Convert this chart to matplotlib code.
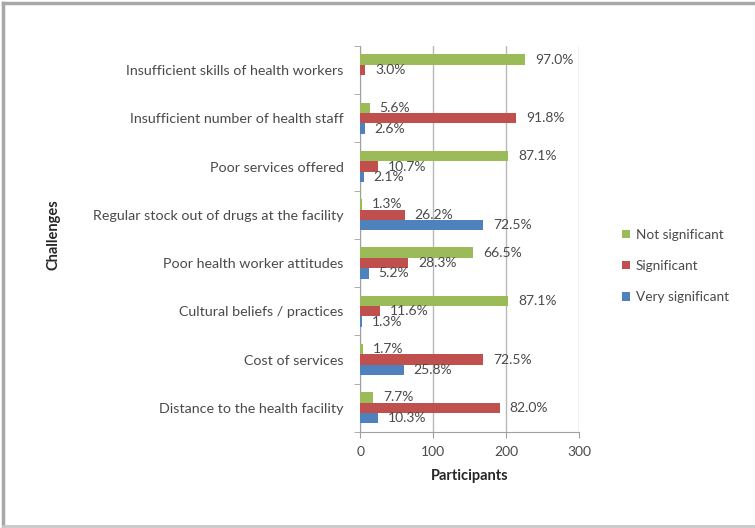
import matplotlib
matplotlib.use('Agg')
import matplotlib.pyplot as plt
import numpy as np
from matplotlib.lines import Line2D

# categories bottom -> top
challenges = ['Distance to the health facility', 'Cost of services',
              'Cultural beliefs / practices', 'Poor health worker attitudes',
              'Regular stock out of drugs at the facility', 'Poor services offered',
              'Insufficient number of health staff', 'Insufficient skills of health workers']

# participant counts per series
very_sig = [24, 60, 3, 12, 169, 5, 6, 0]
significant = [191, 169, 27, 66, 61, 25, 214, 7]
not_sig = [18, 4, 203, 155, 3, 203, 13, 226]

# percentage labels shown in the chart (None = no label)
very_sig_pct = ['10.3%', '25.8%', '1.3%', '5.2%', '72.5%', '2.1%', '2.6%', None]
significant_pct = ['82.0%', '72.5%', '11.6%', '28.3%', '26.2%', '10.7%', '91.8%', '3.0%']
not_sig_pct = ['7.7%', '1.7%', '87.1%', '66.5%', '1.3%', '87.1%', '5.6%', '97.0%']

xticks = [0, 100, 200, 300]

plt.rcParams['font.family'] = ['Lato', 'DejaVu Sans']
txt = '#4a4a4a'

fig = plt.figure(figsize=(7.55, 5.28), dpi=100)
fig.patch.set_facecolor('white')
# chart frame (top, left, bottom only - right edge is cropped)
border = '#a8a8a8'
fig.lines.append(Line2D([0.004, 0.004], [0.004, 0.995], transform=fig.transFigure,
                        color=border, linewidth=2.5))
fig.lines.append(Line2D([0.004, 1.0], [0.995, 0.995], transform=fig.transFigure,
                        color=border, linewidth=2.5))
fig.lines.append(Line2D([0.004, 1.0], [0.004, 0.004], transform=fig.transFigure,
                        color='#c8c8c8', linewidth=2))

ax = fig.add_axes([0.477, 0.182, 0.290, 0.731])

y = np.arange(len(challenges))
h = 0.215
series = [
    (not_sig, not_sig_pct, '#9bbb59', 'Not significant', h),
    (significant, significant_pct, '#c0504d', 'Significant', 0),
    (very_sig, very_sig_pct, '#4f81bd', 'Very significant', -h),
]
for vals, pcts, col, name, off in series:
    ax.barh(y + off, vals, height=h, color=col, label=name, zorder=3)
    for yi, v, p in zip(y, vals, pcts):
        if p is None:
            continue
        ax.annotate(p, (v, yi + off), xytext=(7, 0), textcoords='offset points',
                    va='center', ha='left', fontsize=10, color=txt, zorder=4)

ax.set_xlim(0, 300)
ax.set_ylim(-0.5, len(challenges) - 0.5)
ax.set_xticks(xticks)
ax.set_xticklabels([str(t) for t in xticks], fontsize=10, color=txt)
ax.set_yticks(y)
ax.set_yticklabels(challenges, fontsize=10.3, color=txt)
ax.set_yticks(np.arange(-0.5, len(challenges)), minor=True)
ax.tick_params(axis='y', which='major', length=0, pad=12)
ax.tick_params(axis='y', which='minor', length=4, color='#a0a0a0')
ax.tick_params(axis='x', length=4, color='#a0a0a0', pad=6)
ax.grid(axis='x', color='#b8b8b8', linewidth=1, zorder=0)

for s in ['top', 'right']:
    ax.spines[s].set_visible(False)
for s in ['left', 'bottom']:
    ax.spines[s].set_color('#a0a0a0')

ax.set_xlabel('Participants', fontsize=10.5, fontweight='bold', color='#262626', labelpad=8)
fig.text(0.071, 0.555, 'Challenges', rotation=90, ha='center', va='center',
         fontsize=10.5, fontweight='bold', color='#262626')

leg = ax.legend(loc='center left', bbox_to_anchor=(1.14, 0.43), frameon=False,
                fontsize=9.8, handlelength=0.6, handleheight=0.6, handletextpad=0.4,
                labelspacing=1.4)
for t in leg.get_texts():
    t.set_color(txt)

fig.savefig('out.png', dpi=100)
